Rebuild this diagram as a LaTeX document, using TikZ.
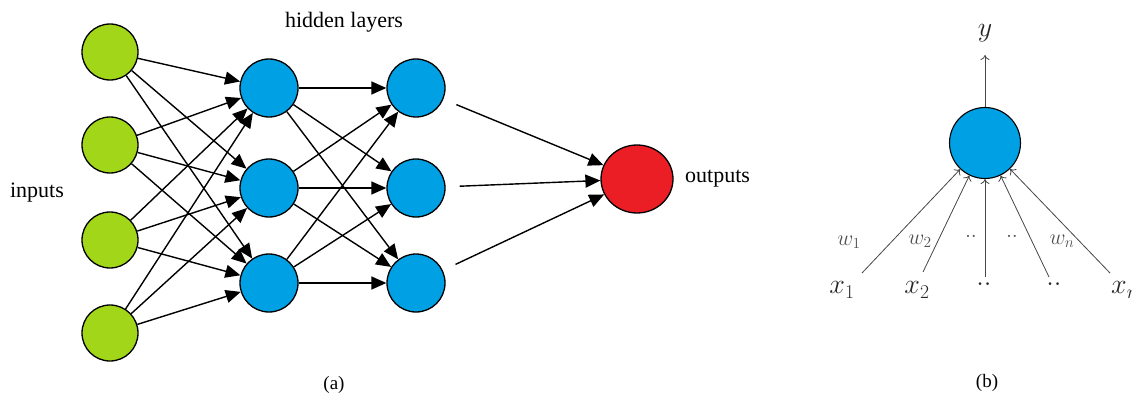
\RequirePackage{fix-cm}
\documentclass[tikz,border=0pt]{standalone}
\usepackage{fontspec}
\setmainfont{Liberation Serif}
\usetikzlibrary{arrows.meta,shapes.geometric}
\definecolor{ingreen}{RGB}{162,214,24}
\definecolor{nblue}{RGB}{0,160,228}
\definecolor{outred}{RGB}{234,30,36}
\definecolor{lgray}{RGB}{70,70,70}
\definecolor{wgray}{RGB}{80,80,80}
\tikzset{
  unit/.style={circle,draw=black,line width=1.3pt,inner sep=0pt},
  inunit/.style={unit,fill=ingreen,minimum size=56pt},
  hidunit/.style={unit,fill=nblue,minimum size=58pt},
  outunit/.style={ellipse,draw=black,line width=1.3pt,fill=outred,minimum width=72pt,minimum height=68pt,inner sep=0pt},
  conn/.style={line width=1.4pt,-{Triangle[length=15pt,width=13pt]}},
  lbl/.style={font=\fontsize{22}{26}\selectfont,inner sep=0pt},
  captxt/.style={font=\fontsize{19}{23}\selectfont,inner sep=0pt},
  neuron/.style={circle,draw=black,line width=1.1pt,fill=nblue,minimum size=71pt,inner sep=0pt},
  syn/.style={draw=lgray,line width=0.8pt,-{To[length=5pt,width=9pt]}},
  xlab/.style={font=\fontsize{28}{32}\selectfont,text=black!85,inner sep=0pt},
  wlab/.style={font=\fontsize{22}{26}\selectfont,text=wgray,inner sep=0pt}
}
\begin{document}
\begin{tikzpicture}[x=1pt,y=-1pt]
\useasboundingbox (0,0) rectangle (1132,401);

% ---- (a) feed-forward network ----
\node[inunit] (i1) at (110,52) {};
\node[inunit] (i2) at (110,145) {};
\node[inunit] (i3) at (110,240) {};
\node[inunit] (i4) at (110,333) {};

\node[hidunit] (h1) at (269,88) {};
\node[hidunit] (h2) at (269,188) {};
\node[hidunit] (h3) at (269,283) {};

\node[hidunit] (g1) at (416,88) {};
\node[hidunit] (g2) at (416,188) {};
\node[hidunit] (g3) at (416,283) {};

\node[outunit] (o) at (637,179) {};

\foreach \i in {1,...,4}
  \foreach \j in {1,2,3}
    \draw[conn] (i\i) -- (h\j);
\foreach \i in {1,2,3}
  \foreach \j in {1,2,3}
    \draw[conn] (h\i) -- (g\j);
\foreach \i in {1,2,3}
  \draw[conn,shorten <=14pt] (g\i) -- (o);

\node[lbl] (tin) at (37,193) {inputs};
\node[lbl] (thid) at (344,22) {hidden layers};
\node[lbl,anchor=west] (tout) at (685,179) {outputs};
\node[captxt] (ca) at (334,385) {(a)};

% ---- (b) single neuron ----
\node[neuron] (n) at (985,143) {};
\coordinate (yend) at (985,55);
\node[xlab] (ylab) at (985,33) {$y$};
\draw[syn] (n) -- (yend);

\coordinate (s1) at (862,273);
\coordinate (s2) at (923,272);
\coordinate (s3) at (985,277);
\coordinate (s4) at (1049,277);
\coordinate (s5) at (1110,273);
\foreach \k in {1,...,5}
  \draw[syn] (s\k) -- (n);

\node[xlab] (x1) at (842,290) {$x_1$};
\node[xlab] (x2) at (917,290) {$x_2$};
\node[xlab] (xd1) at (984,284) {$..$};
\node[xlab] (xd2) at (1054,284) {$..$};
\node[xlab,anchor=west] (xn) at (1111,290) {$x_n$};

\node[wlab] (w1) at (849,242) {$w_1$};
\node[wlab] (w2) at (920,241) {$w_2$};
\node[wlab] (wd1) at (971,236) {$..$};
\node[wlab] (wd2) at (1012,236) {$..$};
\node[wlab] (wn) at (1062,241) {$w_n$};

\node[captxt] (cb) at (987,383) {(b)};
\end{tikzpicture}
\end{document}
